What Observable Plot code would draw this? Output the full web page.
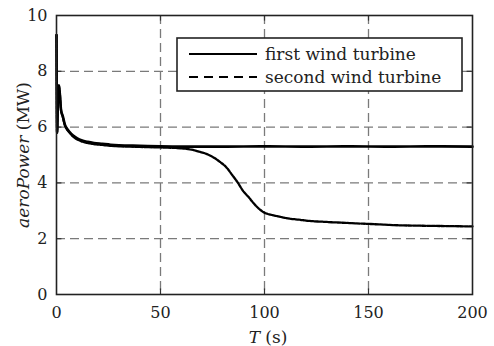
<!DOCTYPE html>
<html>
<head>
<meta charset="utf-8">
<script src="https://cdn.jsdelivr.net/npm/d3@7"></script>
<script src="https://cdn.jsdelivr.net/npm/@observablehq/plot@0.6"></script>
<style>
  html, body { margin: 0; padding: 0; background: white; }
</style>
</head>
<body>
<div id="chart"></div>
<script>
// Data
const t1 = [0, 0.3, 0.7, 1.1, 1.6, 2.2, 3, 4, 5, 6, 8, 10, 12, 15, 18, 22, 26, 30, 40, 50, 60, 80, 100, 120, 140, 160, 180, 200];
const p1 = [9.3, 5.8, 7.0, 7.5, 7.2, 6.6, 6.4, 6.1, 5.95, 5.85, 5.7, 5.6, 5.53, 5.47, 5.43, 5.4, 5.37, 5.35, 5.33, 5.31, 5.3, 5.3, 5.31, 5.3, 5.31, 5.3, 5.31, 5.3];

const t2 = [0, 0.3, 0.7, 1.1, 1.6, 2.2, 3, 4, 5, 6, 8, 10, 12, 15, 18, 22, 26, 30, 40, 50, 55, 60, 65, 69, 72, 76, 79, 81.5, 84.5, 87, 90, 92, 95, 97.5, 100, 103, 106, 112, 117, 120, 130, 141, 150, 165, 180, 190, 200];
const p2 = [9.3, 5.8, 7.0, 7.5, 7.2, 6.6, 6.37, 6.07, 5.92, 5.82, 5.66, 5.56, 5.49, 5.43, 5.39, 5.36, 5.33, 5.31, 5.29, 5.27, 5.26, 5.24, 5.19, 5.11, 5.04, 4.89, 4.73, 4.57, 4.28, 4.03, 3.68, 3.52, 3.25, 3.06, 2.93, 2.86, 2.81, 2.72, 2.68, 2.65, 2.6, 2.56, 2.53, 2.48, 2.46, 2.45, 2.44];

const xTicks = [0, 50, 100, 150, 200];
const yTicks = [0, 2, 4, 6, 8, 10];
const xGrid = [50, 100, 150];
const yGrid = [2, 4, 6, 8];
const seriesNames = ["first wind turbine", "second wind turbine"];

const first = t1.map((t, i) => ({t, p: p1[i]}));
const second = t2.map((t, i) => ({t, p: p2[i]}));

const FONT = "'DejaVu Serif', serif";

const chart = Plot.plot({
  width: 494,
  height: 346,
  marginLeft: 56,
  marginRight: 22,
  marginTop: 15,
  marginBottom: 52,
  x: {domain: [0, 200]},
  y: {domain: [0, 10]},
  style: {fontFamily: FONT, fontSize: "16px", color: "#222", background: "white", overflow: "visible"},
  marks: [
    Plot.gridX(xGrid, {stroke: "#7a7a7a", strokeOpacity: 1, strokeWidth: 1.3, strokeDasharray: "9,5"}),
    Plot.gridY(yGrid, {stroke: "#7a7a7a", strokeOpacity: 1, strokeWidth: 1.3, strokeDasharray: "9,5"}),
    Plot.axisX(xTicks, {tickSize: 0, tickPadding: 12, label: null, fontSize: 16, fill: "#222"}),
    Plot.axisY(yTicks, {tickSize: 0, tickPadding: 9, label: null, fontSize: 16, fill: "#222"}),
    // inward ticks
    Plot.ruleX(xGrid, {y1: 0, y2: 0.2, stroke: "#333", strokeWidth: 1.2}),
    Plot.ruleX(xGrid, {y1: 9.8, y2: 10, stroke: "#333", strokeWidth: 1.2}),
    Plot.ruleY(yGrid, {x1: 0, x2: 2.6, stroke: "#333", strokeWidth: 1.2}),
    Plot.ruleY(yGrid, {x1: 197.4, x2: 200, stroke: "#333", strokeWidth: 1.2}),
    Plot.line(second, {x: "t", y: "p", curve: "monotone-x", stroke: "#000", strokeWidth: 2.3, strokeDasharray: "3.5,1.2"}),
    Plot.line(first, {x: "t", y: "p", curve: "monotone-x", stroke: "#000", strokeWidth: 2.6}),
    Plot.frame({stroke: "#222", strokeWidth: 1.6})
  ]
});

const svg = d3.select(chart);

// axis labels with italic parts
const yl = svg.append("text")
  .attr("transform", "translate(29,155) rotate(-90)")
  .attr("text-anchor", "middle")
  .attr("font-family", FONT)
  .attr("font-size", 17)
  .attr("fill", "#222");
yl.append("tspan").attr("font-style", "italic").text("aeroPower");
yl.append("tspan").text(" (MW)");

const xl = svg.append("text")
  .attr("x", 268).attr("y", 343)
  .attr("text-anchor", "middle")
  .attr("font-family", FONT)
  .attr("font-size", 17)
  .attr("fill", "#222");
xl.append("tspan").attr("font-style", "italic").text("T");
xl.append("tspan").text(" (s)");

// legend
const lg = svg.append("g");
lg.append("rect").attr("x", 177).attr("y", 38).attr("width", 285).attr("height", 53)
  .attr("fill", "white").attr("stroke", "#222").attr("stroke-width", 1.6);
const dashes = [null, "9,6"];
seriesNames.forEach((name, i) => {
  const y = 54 + i * 23;
  lg.append("line").attr("x1", 189).attr("x2", 257).attr("y1", y).attr("y2", y)
    .attr("stroke", "#000").attr("stroke-width", 2)
    .attr("stroke-dasharray", dashes[i]);
  lg.append("text").attr("x", 265).attr("y", y + 6)
    .attr("text-anchor", "start")
    .attr("font-family", FONT).attr("font-size", 17).attr("fill", "#222")
    .text(name);
});

document.getElementById("chart").appendChild(chart);
</script>
</body>
</html>
